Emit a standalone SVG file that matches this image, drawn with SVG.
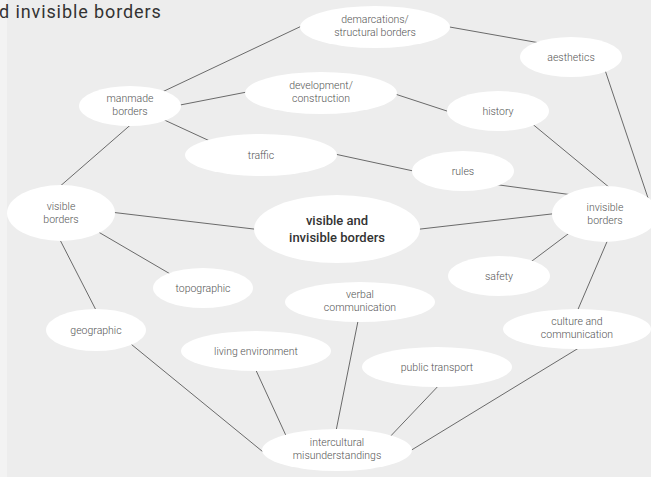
<svg xmlns="http://www.w3.org/2000/svg" width="651" height="477" viewBox="0 0 651 477">
<style>
.bg{fill:#ededed}
.strip{fill:#f3f3f3}
.n{fill:#fff}
.t{font-family:Roboto,"Liberation Sans",sans-serif;font-size:10.5px;font-weight:300;fill:#555;text-anchor:middle}
.c{font-family:Roboto,"Liberation Sans",sans-serif;font-size:13px;font-weight:500;fill:#333;text-anchor:middle}
.title{font-family:Roboto,"Liberation Sans",sans-serif;font-size:18px;letter-spacing:0.9px;fill:#333}
#edges line{stroke:#6a6a6a;stroke-width:1}
</style>
<rect class="strip" x="0" y="0" width="651" height="477"/>
<rect class="bg" x="7" y="0" width="644" height="477"/>
<text class="title" x="-1" y="18">d invisible borders</text>
<g id="edges">
<line x1="160" y1="93" x2="308" y2="23"/>
<line x1="175" y1="106" x2="252" y2="91"/>
<line x1="160" y1="118" x2="212" y2="142"/>
<line x1="135" y1="121" x2="58" y2="188"/>
<line x1="444" y1="26" x2="540" y2="43"/>
<line x1="392" y1="93" x2="453" y2="113"/>
<line x1="604" y1="67" x2="648" y2="198"/>
<line x1="530" y1="122" x2="610" y2="188"/>
<line x1="330" y1="153" x2="418" y2="172"/>
<line x1="492" y1="184" x2="573" y2="195"/>
<line x1="110" y1="212" x2="262" y2="230"/>
<line x1="412" y1="230" x2="560" y2="213"/>
<line x1="95" y1="230" x2="172" y2="275"/>
<line x1="58" y1="236" x2="98" y2="314"/>
<line x1="572" y1="231" x2="528" y2="264"/>
<line x1="609" y1="237" x2="576" y2="314"/>
<line x1="126" y1="340" x2="268" y2="456"/>
<line x1="254" y1="366" x2="288" y2="440"/>
<line x1="359" y1="316" x2="335" y2="436"/>
<line x1="442" y1="382" x2="385" y2="442"/>
<line x1="582" y1="346" x2="405" y2="454"/>
</g>
<g id="demarcations"><ellipse class="n" cx="375" cy="27" rx="75" ry="21"/><text class="t" x="375" y="23">demarcations/</text><text class="t" x="375" y="36">structural  borders</text></g>
<g id="aesthetics"><ellipse class="n" cx="571" cy="57" rx="51" ry="20"/><text class="t" x="571" y="61">aesthetics</text></g>
<g id="development"><ellipse class="n" cx="321" cy="93" rx="76" ry="21"/><text class="t" x="321" y="89">development/</text><text class="t" x="321" y="102">construction</text></g>
<g id="history"><ellipse class="n" cx="498" cy="111" rx="51" ry="20"/><text class="t" x="498" y="115">history</text></g>
<g id="manmade"><ellipse class="n" cx="130" cy="106" rx="51" ry="20"/><text class="t" x="130" y="102">manmade</text><text class="t" x="130" y="115">borders</text></g>
<g id="traffic"><ellipse class="n" cx="261" cy="155" rx="76" ry="21"/><text class="t" x="261" y="159">traffic</text></g>
<g id="rules"><ellipse class="n" cx="463" cy="171" rx="51" ry="20"/><text class="t" x="463" y="175">rules</text></g>
<g id="visible"><ellipse class="n" cx="61" cy="213" rx="54" ry="28"/><text class="t" x="61" y="210">visible</text><text class="t" x="61" y="223">borders</text></g>
<g id="center"><ellipse class="n" cx="337" cy="229" rx="83" ry="34"/><text class="c" x="337" y="225">visible and</text><text class="c" x="337" y="242">invisible borders</text></g>
<g id="invisible"><ellipse class="n" cx="605" cy="214" rx="53" ry="28"/><text class="t" x="605" y="211">invisible</text><text class="t" x="605" y="224">borders</text></g>
<g id="topographic"><ellipse class="n" cx="203" cy="288" rx="50" ry="20"/><text class="t" x="203" y="292">topographic</text></g>
<g id="safety"><ellipse class="n" cx="499" cy="276" rx="51" ry="20"/><text class="t" x="499" y="280">safety</text></g>
<g id="verbal"><ellipse class="n" cx="360" cy="302" rx="75" ry="20"/><text class="t" x="360" y="298">verbal</text><text class="t" x="360" y="311">communication</text></g>
<g id="geographic"><ellipse class="n" cx="96" cy="330" rx="50" ry="21"/><text class="t" x="96" y="334">geographic</text></g>
<g id="living"><ellipse class="n" cx="256" cy="351" rx="75" ry="20"/><text class="t" x="256" y="355">living environment</text></g>
<g id="culture"><ellipse class="n" cx="577" cy="329" rx="74" ry="20"/><text class="t" x="577" y="325">culture and</text><text class="t" x="577" y="338">communication</text></g>
<g id="transport"><ellipse class="n" cx="437" cy="367" rx="75" ry="20"/><text class="t" x="437" y="371">public transport</text></g>
<g id="intercultural"><ellipse class="n" cx="337" cy="450" rx="75" ry="21"/><text class="t" x="337" y="446">intercultural</text><text class="t" x="337" y="459">misunderstandings</text></g>
</svg>
